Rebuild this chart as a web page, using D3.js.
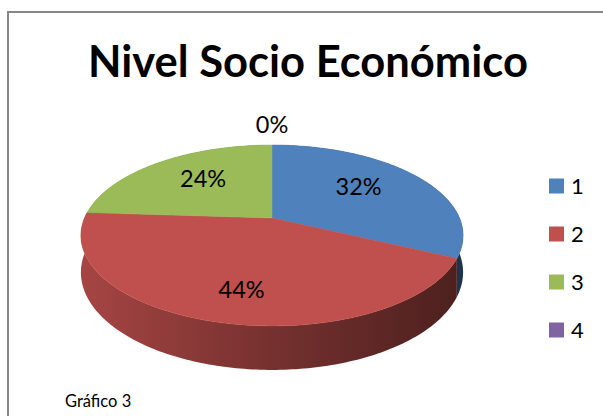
<!DOCTYPE html>
<html>
<head>
<meta charset="utf-8">
<script src="https://cdn.jsdelivr.net/npm/d3@7"></script>
<style>
  html, body { margin: 0; padding: 0; background: #fff; }
  svg { display: block; }
</style>
</head>
<body>
<svg id="chart" width="603" height="416"></svg>
<script>
// Socio-economic level distribution (percent of respondents)
const categories = ["1", "2", "3", "4"];
const values = [32, 44, 24, 0];
const colors = ["#4F81BD", "#C0504D", "#9BBB59", "#8064A2"];
const title = "Nivel Socio Económico";
const caption = "Gráfico 3";

const svg = d3.select("#chart");
const W = 603, H = 416;
const font = "Lato, 'Open Sans', 'Liberation Sans', sans-serif";

// Chart frame (top and left border lines)
svg.append("path")
  .attr("d", `M8,${H} V12 H${W}`)
  .attr("fill", "none")
  .attr("stroke", "#878787")
  .attr("stroke-width", 2);

// Title
const titleText = svg.append("text")
  .attr("x", 308).attr("y", 77)
  .attr("text-anchor", "middle")
  .attr("font-family", font)
  .attr("font-weight", "bold")
  .attr("font-size", 40)
  .attr("fill", "#000")
  .text(title);
// fit the title to its intended width
const tw = titleText.node().getComputedTextLength();
titleText.attr("font-size", 40 * 440 / tw);

// Perspective 3D pie geometry
const geo = { cx: 272, cy: 218, a: 187.5, b: 87.1, p: 0.193, depth: 35.5 };

// phi: angle clockwise from the back of the pie; r: radius fraction; down: point on the lower rim
function project(phi, r, down) {
  const sx = r * Math.sin(phi);
  const u = -r * Math.cos(phi);
  const w = 1 - geo.p * u;
  return [geo.cx + geo.a * sx / w, geo.cy + geo.b * u / w + (down ? geo.depth / w : 0)];
}

const pie = d3.pie().sort(null).value(d => d).startAngle(0).endAngle(2 * Math.PI);
const arcs = pie(values);

function arcPoints(a0, a1, r, down) {
  const n = Math.max(2, Math.ceil((a1 - a0) / (Math.PI / 180)));
  return d3.range(n + 1).map(i => project(a0 + (a1 - a0) * i / n, r, down));
}

const line = d3.line().curve(d3.curveLinear);
const defs = svg.append("defs");

// Side gradients: light on the left, dark on the right
arcs.forEach((d, i) => {
  const base = d3.color(colors[i]);
  const g = defs.append("linearGradient")
    .attr("id", "side" + i)
    .attr("gradientUnits", "userSpaceOnUse")
    .attr("x1", geo.cx - geo.a * 1.02).attr("x2", geo.cx + geo.a * 1.02)
    .attr("y1", 0).attr("y2", 0);
  g.append("stop").attr("offset", 0).attr("stop-color", base.darker(0.4));
  g.append("stop").attr("offset", 0.5).attr("stop-color", base.darker(1.4));
  g.append("stop").attr("offset", 1).attr("stop-color", base.darker(2.6));
});

const pieG = svg.append("g");

// Outer side walls
arcs.forEach((d, i) => {
  if (d.endAngle - d.startAngle <= 0) return;
  const top = arcPoints(d.startAngle, d.endAngle, 1, false);
  const bottom = arcPoints(d.startAngle, d.endAngle, 1, true).reverse();
  pieG.append("path")
    .attr("d", line(top.concat(bottom)) + "Z")
    .attr("fill", `url(#side${i})`);
});

// Top faces
arcs.forEach((d, i) => {
  if (d.endAngle - d.startAngle <= 0) return;
  const pts = [[geo.cx, geo.cy]].concat(arcPoints(d.startAngle, d.endAngle, 1, false));
  pieG.append("path")
    .attr("d", line(pts) + "Z")
    .attr("fill", colors[i])
    .attr("stroke", colors[i])
    .attr("stroke-width", 0.5);
});

// Percentage labels
const total = d3.sum(values);
arcs.forEach((d, i) => {
  const mid = (d.startAngle + d.endAngle) / 2;
  let pos;
  if (d.endAngle - d.startAngle <= 0) {
    pos = project(mid, 1.35, false);
    pos[1] += 5;
  } else {
    pos = project(mid, 0.58, false);
    const u = -0.58 * Math.cos(mid);
    if (u > 0) pos[1] += u * geo.depth / (1 - geo.p * u);
  }
  svg.append("text")
    .attr("x", pos[0]).attr("y", pos[1])
    .attr("dy", "0.12em")
    .attr("text-anchor", "middle")
    .attr("font-family", font)
    .attr("font-size", 23.5)
    .attr("fill", "#000")
    .text(Math.round(values[i] / total * 100) + "%");
});

// Legend
const legend = svg.append("g");
const ly = d3.scalePoint().domain(categories).range([186, 330]);
categories.forEach((c, i) => {
  const y = ly(c);
  legend.append("rect")
    .attr("x", 549).attr("y", y - 7.5)
    .attr("width", 15).attr("height", 15)
    .attr("fill", colors[i]);
  legend.append("text")
    .attr("x", 571).attr("y", y + 7.5)
    .attr("font-family", font)
    .attr("font-size", 22)
    .attr("fill", "#000")
    .text(c);
});

// Caption
svg.append("text")
  .attr("x", 65).attr("y", 407)
  .attr("font-family", font)
  .attr("font-size", 16.5)
  .attr("fill", "#000")
  .text(caption);
</script>
</body>
</html>
